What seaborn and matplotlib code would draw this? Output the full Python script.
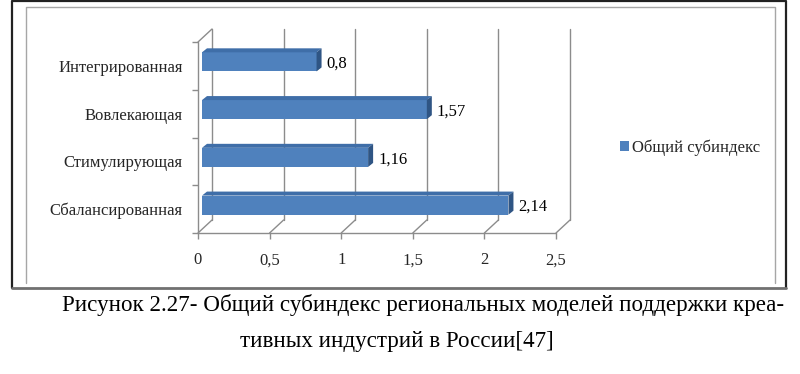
import matplotlib.pyplot as plt
import numpy as np
import seaborn as sns
from matplotlib.patches import Polygon
from matplotlib.lines import Line2D

categories = ["Интегрированная", "Вовлекающая", "Стимулирующая", "Сбалансированная"]
values = [0.8, 1.57, 1.16, 2.14]
series_name = "Общий субиндекс"
x_ticks = [0, 0.5, 1, 1.5, 2, 2.5]
caption_1 = "Рисунок 2.27- Общий субиндекс региональных моделей поддержки креа-"
caption_2 = "тивных индустрий в России[47]"

sns.set_theme(style="white")
plt.rcParams['font.family'] = ['Liberation Serif', 'DejaVu Serif']

W, H = 800, 374
fig = plt.figure(figsize=(W / 100, H / 100), dpi=100)

# front plane of the pseudo-3d plot, in pixels
left_px, right_px, top_px, bot_px = 198, 556, 42, 233
ax = fig.add_axes([left_px / W, 1 - bot_px / H,
                   (right_px - left_px) / W, (bot_px - top_px) / H])

face = "#4f81bd"
top_col = "#3f6ea8"
side_col = "#2f5584"
grid_col = "#8c8c8c"
fs = 12

sns.barplot(x=values, y=categories, orient="h", width=0.4, color=face,
            saturation=1, linewidth=0, label=series_name, ax=ax)

ax.set_xlim(0, 2.5)
ax.set_ylim(3.5, -0.5)

# pixel -> data conversion
ux = (right_px - left_px) / 2.5
uy = (bot_px - top_px) / 4.0
wall_dx, wall_dy = 14 / ux, 13 / uy
bar_dx, bar_dy = 4 / ux, 4 / uy
dep_x, dep_y = 5 / ux, 4 / uy

# back wall and floor
kw = dict(color=grid_col, lw=1, clip_on=False, zorder=0)
for xv in x_ticks:
    ax.add_line(Line2D([xv + wall_dx, xv + wall_dx], [3.5 - wall_dy, -0.5 - wall_dy], **kw))
    ax.add_line(Line2D([xv, xv + wall_dx], [3.5, 3.5 - wall_dy], **kw))
ax.add_line(Line2D([0, wall_dx], [-0.5, -0.5 - wall_dy], **kw))
ax.add_line(Line2D([0, 0], [-0.5, 3.5], **kw))
ax.add_line(Line2D([0, 2.5], [3.5, 3.5], **kw))

# 3d faces on the bars
for p, v in zip(ax.patches, values):
    x0, y0 = p.get_x(), p.get_y()
    w, h = p.get_width(), p.get_height()
    p.set_x(x0 + bar_dx)
    p.set_y(y0 - bar_dy)
    p.set_zorder(3)
    xa, xb = x0 + bar_dx, x0 + bar_dx + w
    yt, yb = y0 - bar_dy, y0 - bar_dy + h
    ax.add_patch(Polygon([(xa, yt), (xb, yt), (xb + dep_x, yt - dep_y), (xa + dep_x, yt - dep_y)],
                         closed=True, fc=top_col, ec="none", clip_on=False, zorder=3))
    ax.add_patch(Polygon([(xb, yt), (xb + dep_x, yt - dep_y), (xb + dep_x, yb - dep_y), (xb, yb)],
                         closed=True, fc=side_col, ec="none", clip_on=False, zorder=3))
    ax.text(xb + dep_x + 5 / ux, (yt + yb) / 2 + 2 / uy, f"{v:g}".replace(".", ","),
            ha="left", va="center", fontsize=fs, color="black", clip_on=False)

for s in ax.spines.values():
    s.set_visible(False)

ax.set_xticks(x_ticks)
ax.set_xticklabels([f"{t:g}".replace(".", ",") for t in x_ticks], fontsize=fs)
ax.tick_params(axis="x", bottom=True, length=4, width=1, color=grid_col, pad=10)
ax.set_yticks(range(len(categories)))
ax.set_yticklabels(categories, fontsize=fs)
ax.tick_params(axis="y", which="major", left=False, length=0, pad=10.8)
ax.set_yticks(np.arange(-0.5, 4, 1), minor=True)
ax.tick_params(axis="y", which="minor", left=True, length=4, width=1, color=grid_col)
ax.set_xlabel("")
ax.set_ylabel("")
ax.grid(False)

ax.legend(loc="center left", bbox_to_anchor=(620 / W, 1 - 148 / H), bbox_transform=fig.transFigure,
          frameon=False, fontsize=fs, handlelength=0.55, handleheight=0.55, handletextpad=0.2,
          borderpad=0, borderaxespad=0)

# frames
fig.add_artist(Line2D([12 / W, 12 / W, 786 / W, 786 / W], [1 - 288 / H, 1 - 1 / H, 1 - 1 / H, 1 - 288 / H],
                      color="#222222", lw=1.6, transform=fig.transFigure))
fig.add_artist(Line2D([12 / W, 786 / W], [1 - 288 / H, 1 - 288 / H],
                      color="#707070", lw=2, transform=fig.transFigure))
fig.add_artist(Line2D([26 / W, 26 / W, 775 / W, 775 / W], [1 - 283 / H, 1 - 7 / H, 1 - 7 / H, 1 - 283 / H],
                      color="#a6a6a6", lw=1, transform=fig.transFigure))

fig.text(62 / W, 1 - 305 / H, caption_1, fontsize=16.6, ha="left", va="center", color="black")
fig.text(397 / W, 1 - 342 / H, caption_2, fontsize=16.6, ha="center", va="center", color="black")

fig.savefig("out.png", dpi=100, facecolor="white")
